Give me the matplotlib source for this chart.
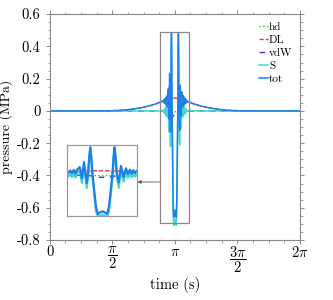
import numpy as np
import matplotlib
matplotlib.use("Agg")
import matplotlib.pyplot as plt
from matplotlib.patches import Rectangle
from matplotlib.ticker import MultipleLocator, FixedLocator

plt.rcParams['font.family'] = 'cmr10'
plt.rcParams['mathtext.fontset'] = 'cm'
plt.rcParams['axes.unicode_minus'] = False
plt.rcParams['axes.formatter.use_mathtext'] = True

# time offsets from pi (s) and pressures (MPa)
outer_left = [-3.1416, -2.0, -1.6, -1.4, -1.2, -1.0, -0.8, -0.6, -0.45, -0.35]
outer_left_tot = [0, 0, 0.001, 0.003, 0.007, 0.013, 0.022, 0.034, 0.046, 0.056]
outer_right = [0.35, 0.45, 0.6, 0.8, 1.0, 1.2, 1.4, 1.6, 2.0, 3.1416]
outer_right_tot = [0.056, 0.046, 0.034, 0.022, 0.013, 0.007, 0.003, 0.001, 0, 0]

core = [-0.30, -0.285, -0.27, -0.255, -0.24, -0.228, -0.216, -0.204, -0.192,
        -0.178, -0.160, -0.145, -0.130, -0.110, -0.100, -0.092, -0.085,
        -0.078, -0.070, -0.056, -0.043, -0.030, -0.015, 0.003, 0.021, 0.036,
        0.049, 0.062, 0.076, 0.083, 0.090, 0.097, 0.105, 0.120, 0.136, 0.155,
        0.172, 0.186, 0.200, 0.212, 0.224, 0.236, 0.248, 0.260, 0.274, 0.288,
        0.30]
core_tot = [0.060, 0.068, 0.050, 0.074, 0.044, 0.082, 0.036, 0.092, 0.026,
            0.100, 0.140, -0.05, 0.23, -0.13, 0.05, 0.33, 0.48,
            0.34, 0.06, -0.26, -0.55, -0.66, -0.635, -0.615, -0.635, -0.66,
            -0.55, -0.26, 0.06, 0.34, 0.48, 0.33, 0.05, -0.12, 0.16, -0.03,
            0.12, 0.020, 0.098, 0.030, 0.088, 0.038, 0.080, 0.044, 0.072, 0.050,
            0.060]
core_S = [0.000, 0.008, -0.012, 0.014, -0.020, 0.022, -0.028, 0.030, -0.040,
          0.040, 0.075, -0.13, 0.16, -0.22, -0.02, 0.26, 0.41,
          0.27, -0.01, -0.34, -0.62, -0.71, -0.69, -0.67, -0.69, -0.71,
          -0.62, -0.34, -0.01, 0.27, 0.41, 0.26, -0.02, -0.21, 0.09, -0.11,
          0.055, -0.045, 0.036, -0.034, 0.028, -0.024, 0.020, -0.016, 0.012, -0.008,
          0.000]

dl_off = [-3.1416, -2.0, -1.6, -1.4, -1.2, -1.0, -0.8, -0.6, -0.45, -0.35, -0.25, -0.15, -0.05, 0,
          0.05, 0.15, 0.25, 0.35, 0.45, 0.6, 0.8, 1.0, 1.2, 1.4, 1.6, 2.0, 3.1416]
dl_val = [0, 0, 0.001, 0.003, 0.007, 0.013, 0.022, 0.034, 0.046, 0.056, 0.065, 0.072, 0.078, 0.08,
          0.078, 0.072, 0.065, 0.056, 0.046, 0.034, 0.022, 0.013, 0.007, 0.003, 0.001, 0, 0]
hd_off = [-3.1416, -0.3, -0.1, 0, 0.1, 0.3, 3.1416]
hd_val = [0, 0, -0.003, -0.005, -0.003, 0, 0]
vdw_off = [-3.1416, -0.1, -0.04, 0, 0.06, 0.12, 3.1416]
vdw_val = [0, 0, -0.03, -0.035, -0.03, 0, 0]

t_tot = np.pi + np.array(outer_left + core + outer_right)
p_tot = np.array(outer_left_tot + core_tot + outer_right_tot)
p_S = np.array([0] * len(outer_left) + core_S + [0] * len(outer_right))
t_dl = np.pi + np.array(dl_off)
t_hd = np.pi + np.array(hd_off)
t_vdw = np.pi + np.array(vdw_off)

c_hd, c_dl, c_vdw, c_s, c_tot = '#22cc22', '#e8383a', '#3535d0', '#45d8cc', '#1f80e8'


def draw(ax, lw=1.2):
    ax.plot(t_hd, hd_val, color=c_hd, ls=':', lw=1.0, label='hd')
    ax.plot(t_dl, dl_val, color=c_dl, ls='--', lw=1.0, dashes=(3, 1.5), label='DL')
    ax.plot(t_vdw, vdw_val, color=c_vdw, ls='--', lw=1.0, dashes=(4, 4), label='vdW')
    ax.plot(t_tot, p_S, color=c_s, lw=lw, label='S')
    ax.plot(t_tot, p_tot, color=c_tot, lw=lw, label='tot')


fig = plt.figure(figsize=(3.33, 3.0), dpi=100)
ax = fig.add_axes([0.149, 0.2, 0.752, 0.753])
draw(ax, lw=1.1)

ax.set_xlim(0, 2 * np.pi)
ax.set_ylim(-0.8, 0.6)
ax.xaxis.set_major_locator(FixedLocator([0, np.pi / 2, np.pi, 3 * np.pi / 2, 2 * np.pi]))
ax.set_xticklabels(['0', r'$\dfrac{\pi}{2}$', r'$\pi$', r'$\dfrac{3\pi}{2}$', r'$2\pi$'])
ax.xaxis.set_minor_locator(MultipleLocator(np.pi / 8))
yticks = [-0.8, -0.6, -0.4, -0.2, 0, 0.2, 0.4, 0.6]
ax.yaxis.set_major_locator(FixedLocator(yticks))
ax.set_yticklabels(['-0.8', '-0.6', '-0.4', '-0.2', '0', '0.2', '0.4', '0.6'])
ax.yaxis.set_minor_locator(MultipleLocator(0.05))
ax.tick_params(which='both', direction='out', top=True, right=True, labelsize=10.5,
               color='#777777')
ax.tick_params(which='major', length=3, width=0.6)
ax.tick_params(which='minor', length=1.8, width=0.5)
ax.tick_params(axis='x', pad=0.5)
for s in ax.spines.values():
    s.set_color('#888888')
    s.set_linewidth(0.8)
ax.set_xlabel('time (s)', fontsize=10.5, labelpad=1)
ax.set_ylabel('pressure (MPa)', fontsize=10, labelpad=3)

leg = ax.legend(loc='upper right', frameon=False, fontsize=8, handlelength=0.8,
                handletextpad=0.1, labelspacing=0.3, borderaxespad=0.3)

# zoom box around the pulse
ax.add_patch(Rectangle((2.77, -0.695), 0.73, 1.185, fill=False,
                       edgecolor='#888888', lw=0.9, zorder=5))

# inset
axi = fig.add_axes([0.202, 0.279, 0.209, 0.238])
draw(axi, lw=1.6)
axi.set_xlim(np.pi - 0.25, np.pi + 0.25)
axi.set_ylim(-0.70, 0.52)
axi.set_xticks([])
axi.set_yticks([])
for s in axi.spines.values():
    s.set_color('#999999')
    s.set_linewidth(0.9)

ax.annotate('', xy=(137.5 / 333, 1 - 182 / 300), xytext=(160 / 333, 1 - 182 / 300),
            xycoords='figure fraction', textcoords='figure fraction',
            arrowprops=dict(arrowstyle='-|>', color='#555555', lw=0.6,
                            mutation_scale=5, shrinkA=0, shrinkB=0))

fig.savefig('out.png', dpi=100)
